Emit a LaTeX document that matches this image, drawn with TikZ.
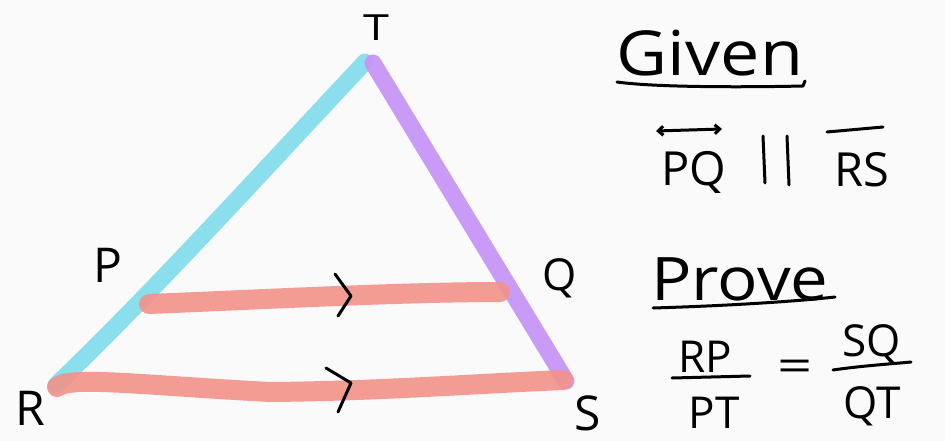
\documentclass[tikz,border=0pt]{standalone}
\usepackage{fontspec}
\setmainfont{Open Sans}
\usetikzlibrary{arrows.meta}
\definecolor{bgc}{RGB}{250,250,250}
\definecolor{cyanc}{RGB}{134,222,236}
\definecolor{purplec}{RGB}{200,150,246}
\definecolor{pinkc}{RGB}{242,146,138}
\tikzset{
  hl/.style={line width=17pt, line cap=round, line join=round, opacity=0.95},
  pinkhl/.style={line width=20pt, line cap=round, line join=round, color=pinkc, opacity=0.9},
  ink/.style={line width=3pt, line cap=round, line join=round, black},
  lbl/.style={inner sep=0pt, anchor=base, font=\fontsize{48}{48}\selectfont},
  big/.style={inner sep=0pt, anchor=base, font=\fontsize{62}{62}\selectfont},
  med/.style={inner sep=0pt, anchor=base, font=\fontsize{47}{47}\selectfont},
  frac/.style={inner sep=0pt, anchor=base, font=\fontsize{44}{44}\selectfont}
}
\begin{document}
\begin{tikzpicture}[x=1pt,y=-1pt]
\fill[bgc] (0,0) rectangle (945,441);
\useasboundingbox (0,0) rectangle (945,441);
% vertices
\coordinate (R) at (56,385);
\coordinate (T) at (365,62);
\coordinate (Tp) at (373,63);
\coordinate (S) at (566,381);
\coordinate (P) at (149,304);
\coordinate (Q) at (500,292);
\coordinate (Rb) at (57,387);
\coordinate (Sb) at (563,380);
% sides
\draw[hl, cyanc] (R) .. controls (150,295) and (250,185) .. (T);
\draw[hl, purplec] (Tp) -- (S);
\draw[pinkhl] (P) .. controls (250,300) and (400,292) .. (Q);
\draw[pinkhl] (Rb) .. controls (70,376) and (140,385) .. (270,392)
   .. controls (380,391) and (470,384) .. (Sb);
% parallel tick marks
\draw[ink] (335,274) -- (351,296) -- (338,316);
\draw[ink] (326,368) -- (351,383) -- (338,412);
% vertex labels
\node[lbl, font=\fontsize{36}{36}\selectfont, xscale=1.3] (lT) at (376,41) {T};
\node[lbl] (lP) at (108,282) {P};
\node[lbl, font=\fontsize{44}{44}\selectfont] (lQ) at (560,290) {Q};
\node[lbl] (lR) at (30,425) {R};
\node[lbl] (lS) at (588,430) {S};
% Given
\node[big, xscale=1.13] (given) at (710,76) {Given};
\draw[ink] (617,82) .. controls (660,88) and (760,87) .. (803,86) -- (805,81);
\node[med] (pq) at (694,185) {PQ};
\draw[ink, {Straight Barb[length=5pt,width=9pt]}-{Straight Barb[length=5pt,width=9pt]}] (656,131) -- (722,129);
\node[inner sep=0pt] (par) at (776,160) {};
\draw[ink] (763,136) -- (765,183);
\draw[ink] (787,136) -- (789,185);
\node[med] (rs) at (862,186) {RS};
\draw[ink] (827,132) -- (883,127);
% Prove
\node[big, font=\fontsize{60}{60}\selectfont, xscale=1.12] (prove) at (740,300) {Prove};
\draw[ink] (653,308) .. controls (720,306) and (790,302) .. (835,297);
\node[frac] (rp) at (705,372) {RP};
\draw[ink] (672,378) -- (750,376);
\node[frac] (pt) at (714,428) {PT};
\node[frac, xscale=1.4] (eq) at (795,381) {=};
\node[frac] (sq) at (872,356) {SQ};
\draw[ink] (833,370) .. controls (860,366) and (890,364) .. (911,362);
\node[frac] (qt) at (872,418) {QT};
\end{tikzpicture}
\end{document}
